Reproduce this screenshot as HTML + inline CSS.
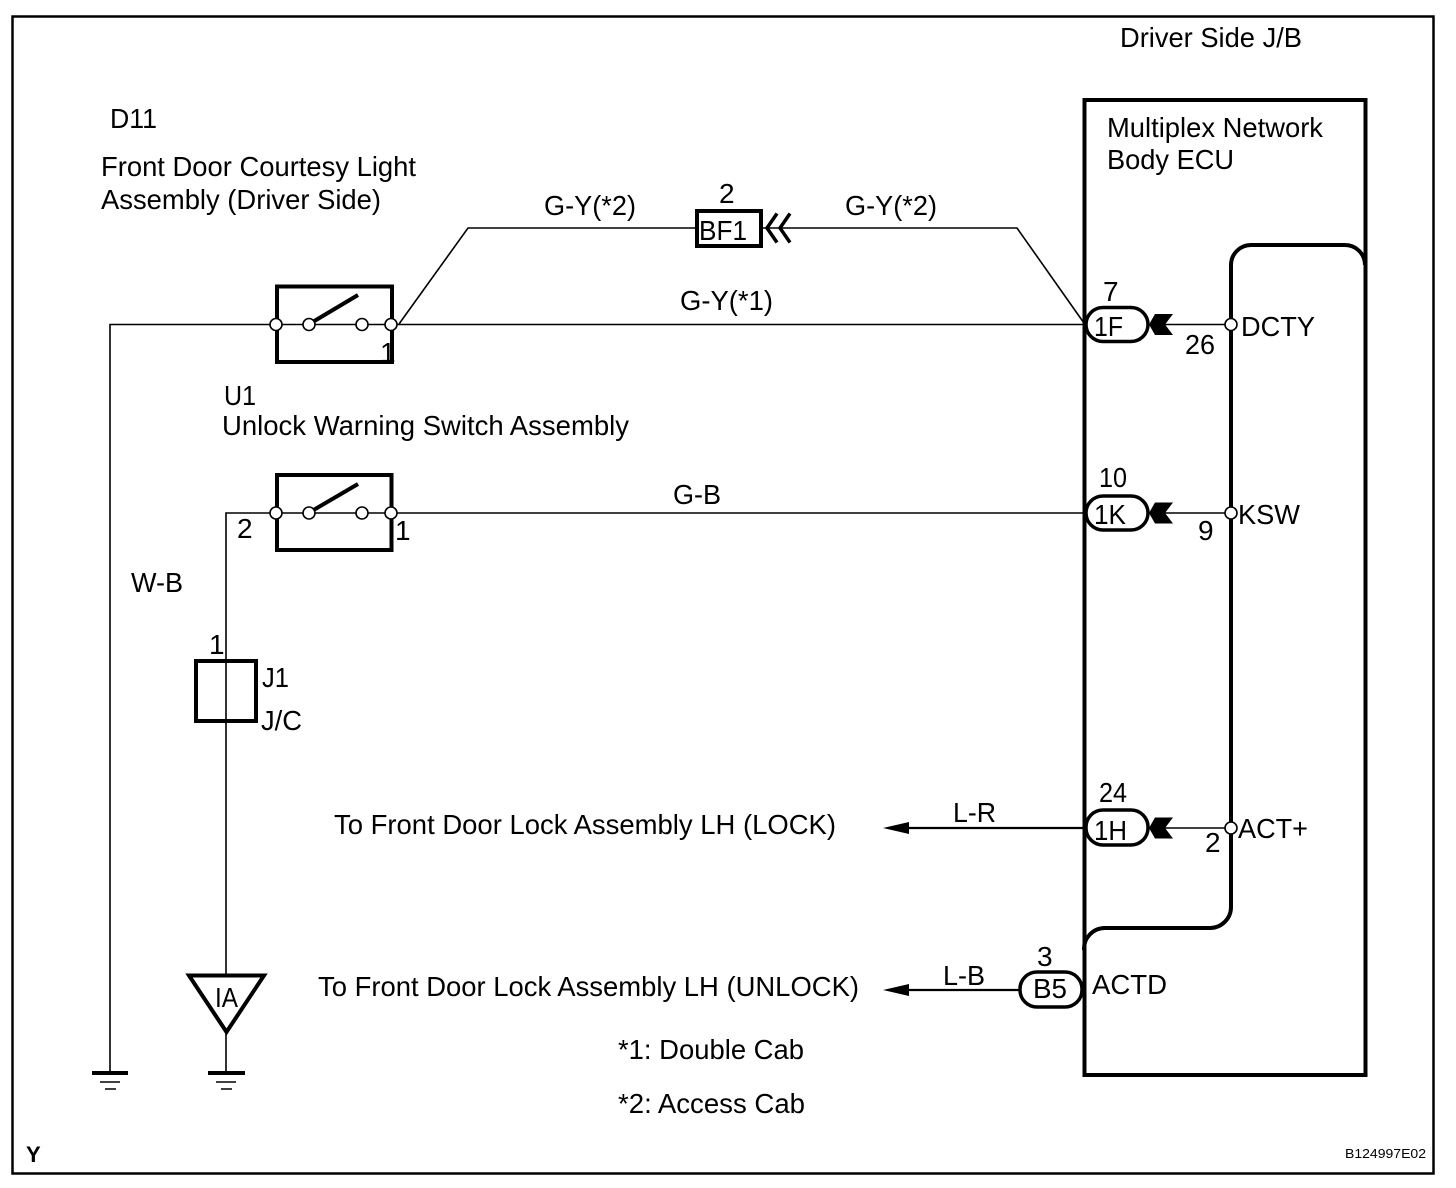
<!DOCTYPE html>
<html><head><meta charset="utf-8"><style>
html,body{margin:0;padding:0;background:#fff}
svg{display:block}
text{font-family:"Liberation Sans",sans-serif;font-size:28px;fill:#000}
</style></head><body>
<svg width="1456" height="1188" viewBox="0 0 1456 1188" xmlns="http://www.w3.org/2000/svg">
<rect width="1456" height="1188" fill="#fff"/>
<rect x="12.5" y="16.5" width="1421" height="1157" fill="none" stroke="#000" stroke-width="2.5"/>

<!-- ECU -->
<rect x="1084.5" y="100" width="281" height="975" fill="none" stroke="#000" stroke-width="4"/>
<path d="M1365 265A20 20 0 0 0 1345 245H1251A20 20 0 0 0 1231 265V907A21 21 0 0 1 1210 928H1105A21 21 0 0 0 1084 950" fill="none" stroke="#000" stroke-width="4"/>

<!-- thin wires -->
<g fill="none" stroke="#000" stroke-width="1.6">
<path d="M276 324.5H110V1073"/>
<path d="M276 324.5H392M391 324.5H1086"/>
<path d="M399 324L468 228H695M763 228H1017L1085 324.5"/>
<path d="M1165 324.5H1231M1165 513H1231M1165 828H1231"/>
<path d="M276 513H392M391 513H1086M276 513H226V975M226 1033V1073"/>
</g>
<g fill="none" stroke="#000" stroke-width="2.2">
<path d="M905 828H1086M905 990H1020"/>
</g>

<!-- Switches -->
<rect x="277" y="286.5" width="115" height="75.5" fill="none" stroke="#000" stroke-width="4"/>
<rect x="277" y="475" width="114.5" height="75" fill="none" stroke="#000" stroke-width="4"/>
<g stroke="#000" stroke-width="4"><path d="M311 323L358 295M311 511.5L358 484"/></g>
<g fill="#fff" stroke="#000" stroke-width="1.6">
<circle cx="276" cy="324.5" r="6"/><circle cx="309" cy="324.5" r="6"/><circle cx="362" cy="324.5" r="6"/><circle cx="391" cy="324.5" r="6"/>
<circle cx="276" cy="513" r="6"/><circle cx="309" cy="513" r="6"/><circle cx="362" cy="513" r="6"/><circle cx="391" cy="513" r="6"/>
<circle cx="1231" cy="324.5" r="6"/><circle cx="1231" cy="513" r="6"/><circle cx="1231" cy="828" r="6"/>
</g>

<!-- BF1 -->
<rect x="697" y="211" width="64" height="35" fill="#fff" stroke="#000" stroke-width="4"/>
<path d="M777 213.5L767 228L777 242.5M790 213.5L780 228L790 242.5" fill="none" stroke="#000" stroke-width="3.5"/>

<!-- Pills -->
<g fill="#fff" stroke="#000" stroke-width="3.5">
<rect x="1086" y="307.5" width="62" height="34" rx="17"/>
<rect x="1086" y="496" width="62" height="34" rx="17"/>
<rect x="1086" y="810" width="62" height="35" rx="17"/>
<rect x="1020" y="972" width="62" height="35" rx="17"/>
</g>
<g fill="#000">
<path d="M1149 324.5L1155 314H1173L1165 324.5L1173 335H1155Z"/>
<path d="M1149 513L1155 502.5H1173L1165 513L1173 523.5H1155Z"/>
<path d="M1149 828L1155 817.5H1173L1165 828L1173 838.5H1155Z"/>
<path d="M883 828L909 822V834Z"/>
<path d="M883 990L909 984V996Z"/>
</g>

<!-- J1 + triangle + grounds -->
<rect x="196" y="661" width="60" height="60" fill="none" stroke="#000" stroke-width="4"/>
<path d="M189 975.5H264L226.5 1032Z" fill="none" stroke="#000" stroke-width="4"/>
<path d="M92 1073H128M208 1073H245" stroke="#000" stroke-width="4"/>
<path d="M100 1082H120M105 1089H116M216 1082H236M221 1089H232" stroke="#000" stroke-width="1.6"/>

<!-- Text -->
<text x="1120" y="47" textLength="182" lengthAdjust="spacingAndGlyphs">Driver Side J/B</text>
<text x="110" y="128" textLength="47" lengthAdjust="spacingAndGlyphs">D11</text>
<text x="101" y="176" textLength="315" lengthAdjust="spacingAndGlyphs">Front Door Courtesy Light</text>
<text x="101" y="209" textLength="280" lengthAdjust="spacingAndGlyphs">Assembly (Driver Side)</text>
<text x="1107" y="137" textLength="216" lengthAdjust="spacingAndGlyphs">Multiplex Network</text>
<text x="1107" y="169" textLength="127" lengthAdjust="spacingAndGlyphs">Body ECU</text>
<text x="719" y="203">2</text>
<text x="544" y="215" textLength="92" lengthAdjust="spacingAndGlyphs">G-Y(*2)</text>
<text x="845" y="215" textLength="92" lengthAdjust="spacingAndGlyphs">G-Y(*2)</text>
<text x="699" y="240" textLength="48" lengthAdjust="spacingAndGlyphs">BF1</text>
<text x="680" y="310" textLength="93" lengthAdjust="spacingAndGlyphs">G-Y(*1)</text>
<text x="380" y="362">1</text>
<text x="224" y="405" textLength="32" lengthAdjust="spacingAndGlyphs">U1</text>
<text x="222" y="435" textLength="407" lengthAdjust="spacingAndGlyphs">Unlock Warning Switch Assembly</text>
<text x="673" y="504" textLength="48" lengthAdjust="spacingAndGlyphs">G-B</text>
<text x="237" y="538">2</text>
<text x="395" y="540">1</text>
<text x="131" y="592" textLength="52" lengthAdjust="spacingAndGlyphs">W-B</text>
<text x="209" y="654">1</text>
<text x="262" y="687" textLength="27" lengthAdjust="spacingAndGlyphs">J1</text>
<text x="261" y="730" textLength="41" lengthAdjust="spacingAndGlyphs">J/C</text>
<text x="215" y="1007" textLength="23" lengthAdjust="spacingAndGlyphs">IA</text>
<text x="334" y="834" textLength="502" lengthAdjust="spacingAndGlyphs">To Front Door Lock Assembly LH (LOCK)</text>
<text x="318" y="996" textLength="541" lengthAdjust="spacingAndGlyphs">To Front Door Lock Assembly LH (UNLOCK)</text>
<text x="953" y="822" textLength="43" lengthAdjust="spacingAndGlyphs">L-R</text>
<text x="943" y="985" textLength="42" lengthAdjust="spacingAndGlyphs">L-B</text>
<text x="1037" y="966">3</text>
<text x="1033" y="998" textLength="34" lengthAdjust="spacingAndGlyphs">B5</text>
<text x="1092" y="994" textLength="75" lengthAdjust="spacingAndGlyphs">ACTD</text>
<text x="1099" y="802" textLength="28" lengthAdjust="spacingAndGlyphs">24</text>
<text x="1094" y="840" textLength="33" lengthAdjust="spacingAndGlyphs">1H</text>
<text x="1205" y="852">2</text>
<text x="1238" y="838" textLength="70" lengthAdjust="spacingAndGlyphs">ACT+</text>
<text x="1103" y="301">7</text>
<text x="1094" y="336" textLength="29" lengthAdjust="spacingAndGlyphs">1F</text>
<text x="1185" y="354" textLength="30" lengthAdjust="spacingAndGlyphs">26</text>
<text x="1241" y="336" textLength="74" lengthAdjust="spacingAndGlyphs">DCTY</text>
<text x="1099" y="487" textLength="28" lengthAdjust="spacingAndGlyphs">10</text>
<text x="1094" y="524" textLength="32" lengthAdjust="spacingAndGlyphs">1K</text>
<text x="1198" y="540">9</text>
<text x="1238" y="524" textLength="62" lengthAdjust="spacingAndGlyphs">KSW</text>
<text x="618" y="1059" textLength="186" lengthAdjust="spacingAndGlyphs">*1: Double Cab</text>
<text x="618" y="1113" textLength="187" lengthAdjust="spacingAndGlyphs">*2: Access Cab</text>
<text x="26" y="1162" style="font-size:22px;font-weight:bold">Y</text>
<text x="1345" y="1158" textLength="81" lengthAdjust="spacingAndGlyphs" style="font-size:13px">B124997E02</text>
</svg>
</body></html>
